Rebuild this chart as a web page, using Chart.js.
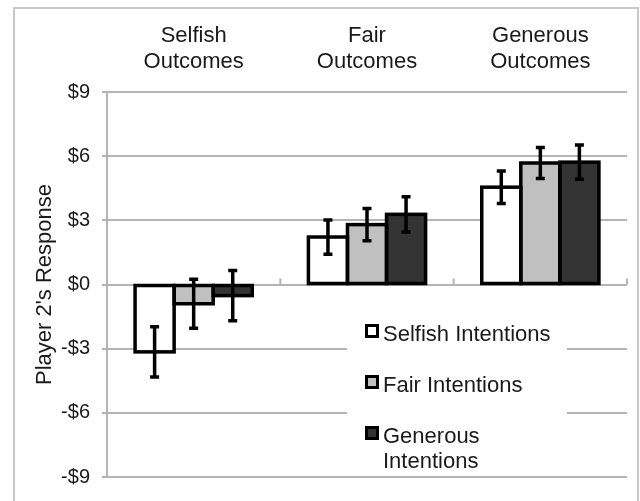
<!DOCTYPE html>
<html>
<head>
<meta charset="utf-8">
<title>Player 2's Response</title>
<script src="https://cdn.jsdelivr.net/npm/chart.js@4.4.1/dist/chart.umd.min.js"></script>
<style>
  body { margin: 0; background: #fff; }
</style>
</head>
<body>
<canvas id="myChart" width="640" height="501"></canvas>
<script>
// Data
const categories = [['Selfish', 'Outcomes'], ['Fair', 'Outcomes'], ['Generous', 'Outcomes']];
const seriesNames = ['Selfish Intentions', 'Fair Intentions', 'Generous Intentions'];
const legendLines = [['Selfish Intentions'], ['Fair Intentions'], ['Generous', 'Intentions']];
const selfishValues = [-3.15, 2.22, 4.55];
const fairValues = [-0.9, 2.8, 5.68];
const generousValues = [-0.52, 3.28, 5.72];
const selfishErrors = [1.18, 0.8, 0.76];
const fairErrors = [1.15, 0.75, 0.72];
const generousErrors = [1.17, 0.82, 0.8];
const yTicks = [-9, -6, -3, 0, 3, 6, 9];
const barColors = ['#ffffff', '#c0c0c0', '#333333'];

const allValues = [selfishValues, fairValues, generousValues];
const allErrors = [selfishErrors, fairErrors, generousErrors];

Chart.defaults.font.family = '"Liberation Sans", Arial, sans-serif';
Chart.defaults.color = '#1a1a1a';

const gridColor = '#b4b4b4';

// light gray frame round the whole figure
const framePlugin = {
  id: 'frame',
  beforeDraw(chart) {
    const ctx = chart.ctx;
    ctx.save();
    ctx.strokeStyle = '#c8c8c8';
    ctx.lineWidth = 2;
    ctx.strokeRect(14, 8, 624, 540);
    ctx.restore();
  }
};

// small tick marks on the $0 line between the categories
const zeroTicksPlugin = {
  id: 'zeroTicks',
  beforeDatasetsDraw(chart) {
    const ctx = chart.ctx;
    const x = chart.scales.x;
    const y0 = chart.scales.y.getPixelForValue(0);
    ctx.save();
    ctx.strokeStyle = gridColor;
    ctx.lineWidth = 2;
    for (let i = 0; i < categories.length; i++) {
      const bx = i < categories.length - 1
        ? (x.getPixelForValue(i) + x.getPixelForValue(i + 1)) / 2
        : chart.chartArea.right;
      ctx.beginPath();
      ctx.moveTo(bx, y0 - 6);
      ctx.lineTo(bx, y0);
      ctx.stroke();
    }
    ctx.restore();
  }
};

// black outlines (centred on the bar edges) and error bars
const outlinePlugin = {
  id: 'outlines',
  afterDatasetsDraw(chart) {
    const ctx = chart.ctx;
    const yScale = chart.scales.y;
    ctx.save();
    ctx.strokeStyle = '#000';
    ctx.lineWidth = 3.5;
    chart.data.datasets.forEach((ds, di) => {
      chart.getDatasetMeta(di).data.forEach(bar => {
        const top = Math.min(bar.y, bar.base);
        ctx.strokeRect(bar.x - bar.width / 2, top, bar.width, Math.abs(bar.base - bar.y));
      });
    });
    chart.data.datasets.forEach((ds, di) => {
      chart.getDatasetMeta(di).data.forEach((bar, i) => {
        const v = allValues[di][i];
        const e = allErrors[di][i];
        const yt = yScale.getPixelForValue(v + e);
        const yb = yScale.getPixelForValue(v - e);
        ctx.beginPath();
        ctx.moveTo(bar.x, yt);
        ctx.lineTo(bar.x, yb);
        ctx.moveTo(bar.x - 4.5, yt);
        ctx.lineTo(bar.x + 4.5, yt);
        ctx.moveTo(bar.x - 4.5, yb);
        ctx.lineTo(bar.x + 4.5, yb);
        ctx.stroke();
      });
    });
    ctx.restore();
  }
};

// legend sitting inside the plot, over the gridlines
const boxLegendPlugin = {
  id: 'boxLegend',
  afterDatasetsDraw(chart) {
    const ctx = chart.ctx;
    ctx.save();
    ctx.fillStyle = '#fff';
    ctx.fillRect(347, 303, 220, 172);
    ctx.font = '22px "Liberation Sans", Arial, sans-serif';
    ctx.textBaseline = 'alphabetic';
    ctx.textAlign = 'left';
    legendLines.forEach((lines, i) => {
      const top = 324 + i * 51;
      ctx.fillStyle = '#000';
      ctx.fillRect(365, top, 14, 14);
      ctx.fillStyle = barColors[i];
      ctx.fillRect(368, top + 3, 8, 8);
      ctx.fillStyle = '#1a1a1a';
      lines.forEach((line, j) => {
        ctx.fillText(line, 383, top + 17 + j * 25);
      });
    });
    ctx.restore();
  }
};

const datasets = seriesNames.map((name, i) => ({
  label: name,
  data: allValues[i],
  backgroundColor: barColors[i],
  borderWidth: 0,
  inflateAmount: 0,
  barPercentage: 1,
  categoryPercentage: 0.676
}));

const ctx = document.getElementById('myChart').getContext('2d');
const myChart = new Chart(ctx, {
  type: 'bar',
  data: {
    labels: categories,
    datasets: datasets
  },
  options: {
    responsive: false,
    animation: false,
    devicePixelRatio: 1,
    layout: { padding: { left: 0, top: 0, right: 13, bottom: 19 } },
    plugins: {
      legend: { display: false },
      tooltip: { enabled: false }
    },
    scales: {
      x: {
        position: 'top',
        grid: { display: false, drawTicks: false },
        border: { display: false },
        ticks: {
          padding: 17,
          maxRotation: 0,
          autoSkip: false,
          font: { size: 22, lineHeight: '26px' }
        },
        afterFit: s => { s.height = 92; }
      },
      y: {
        min: yTicks[0],
        max: yTicks[yTicks.length - 1],
        afterBuildTicks: s => { s.ticks = yTicks.map(v => ({ value: v })); },
        grid: { color: gridColor, lineWidth: 2, tickLength: 5 },
        border: { color: gridColor, width: 2 },
        ticks: {
          padding: 12,
          font: { size: 20 },
          callback: v => (v < 0 ? '-$' + Math.abs(v) : '$' + v)
        },
        title: {
          display: true,
          text: "Player 2's Response",
          font: { size: 22 },
          padding: { top: 32, bottom: 0 }
        },
        afterFit: s => { s.width = 107; }
      }
    }
  },
  plugins: [framePlugin, zeroTicksPlugin, outlinePlugin, boxLegendPlugin]
});
</script>
</body>
</html>
